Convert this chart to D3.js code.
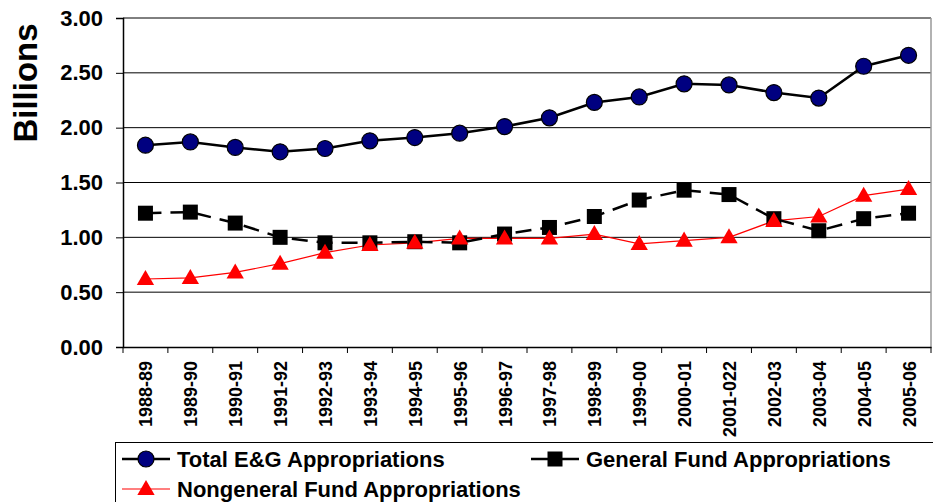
<!DOCTYPE html>
<html>
<head>
<meta charset="utf-8">
<script src="https://cdn.jsdelivr.net/npm/d3@7"></script>
<style>
  body { margin: 0; background: #fff; }
  svg { display: block; font-family: "Liberation Sans", Arial, sans-serif; font-weight: bold; }
</style>
</head>
<body>
<svg id="chart" width="933" height="502"></svg>
<script>
var years = ["1988-89","1989-90","1990-91","1991-92","1992-93","1993-94","1994-95","1995-96","1996-97",
             "1997-98","1998-99","1999-00","2000-01","2001-022","2002-03","2003-04","2004-05","2005-06"];
var totalEG = [1.84,1.87,1.82,1.78,1.81,1.88,1.91,1.95,2.01,2.09,2.23,2.28,2.40,2.39,2.32,2.27,2.56,2.66];
var generalFund = [1.22,1.23,1.13,1.00,0.95,0.95,0.96,0.95,1.03,1.09,1.19,1.34,1.43,1.39,1.17,1.06,1.17,1.22];
var nongeneralFund = [0.62,0.63,0.68,0.76,0.86,0.93,0.95,0.99,0.99,0.99,1.03,0.94,0.97,1.00,1.15,1.19,1.38,1.44];
var yTicks = [0, 0.5, 1, 1.5, 2, 2.5, 3];

var svg = d3.select("#chart");
var pLeft = 123, pRight = 931, pTop = 18, pBottom = 347;

var x = d3.scaleBand().domain(years).range([pLeft, pRight]);
var y = d3.scaleLinear().domain([0, 3]).range([pBottom, pTop]);

// gridlines
svg.append("g").selectAll("line").data(yTicks.filter(function(d) { return d > 0; })).enter()
  .append("line")
  .attr("x1", pLeft).attr("x2", pRight)
  .attr("y1", function(d) { return y(d); }).attr("y2", function(d) { return y(d); })
  .attr("stroke", "#000").attr("stroke-width", 1);

svg.append("line").attr("x1", pRight).attr("x2", pRight).attr("y1", pTop).attr("y2", pBottom)
  .attr("stroke", "#999").attr("stroke-width", 1.5);

// y axis
var yAxis = svg.append("g").attr("transform", "translate(" + pLeft + ",0)")
  .call(d3.axisLeft(y).tickValues(yTicks).tickFormat(d3.format(".2f")).tickSize(7).tickPadding(13));
yAxis.select(".domain").attr("stroke", "#000").attr("stroke-width", 1.5);
yAxis.selectAll("text").style("font-size", "22px").style("font-family", "Liberation Sans, Arial").style("font-weight", "bold").attr("fill", "#000");

// x axis
var xAxis = svg.append("g").attr("transform", "translate(0," + pBottom + ")")
  .call(d3.axisBottom(x).tickSize(0).tickFormat(""));
xAxis.select(".domain").attr("stroke", "#000").attr("stroke-width", 1.5);
svg.append("g").selectAll("line").data(years.concat(["end"])).enter().append("line")
  .attr("x1", function(d, i) { return pLeft + i * x.step(); })
  .attr("x2", function(d, i) { return pLeft + i * x.step(); })
  .attr("y1", pBottom).attr("y2", pBottom + 6).attr("stroke", "#000");

svg.append("g").selectAll("text").data(years).enter().append("text")
  .attr("transform", function(d) { return "translate(" + (x(d) + x.bandwidth() / 2 + 7) + "," + (pBottom + 14) + ") rotate(-90)"; })
  .attr("text-anchor", "end")
  .style("font-size", "18px")
  .text(function(d) { return d; });

svg.append("text")
  .attr("transform", "translate(37,83) rotate(-90)")
  .attr("text-anchor", "middle")
  .style("font-size", "33px")
  .text("Billions");

function cx(d, i) { return x(years[i]) + x.bandwidth() / 2; }

var line = d3.line().x(function(d, i) { return cx(d, i); }).y(function(d) { return y(d); });

// nongeneral
svg.append("path").attr("d", line(nongeneralFund)).attr("fill", "none").attr("stroke", "#ff0000").attr("stroke-width", 1.2);
// general fund
svg.append("path").attr("d", line(generalFund)).attr("fill", "none").attr("stroke", "#000").attr("stroke-width", 2.5).attr("stroke-dasharray", "16,9");
// total
svg.append("path").attr("d", line(totalEG)).attr("fill", "none").attr("stroke", "#000").attr("stroke-width", 2.5);

var tri = d3.symbol().type(d3.symbolTriangle).size(130);

svg.append("g").selectAll("rect").data(generalFund).enter().append("rect")
  .attr("x", function(d, i) { return cx(d, i) - 7.5; })
  .attr("y", function(d) { return y(d) - 7.5; })
  .attr("width", 15).attr("height", 15).attr("fill", "#000");

svg.append("g").selectAll("path").data(nongeneralFund).enter().append("path")
  .attr("d", tri)
  .attr("transform", function(d, i) { return "translate(" + cx(d, i) + "," + (y(d) + 1) + ")"; })
  .attr("fill", "#ff0000");

svg.append("g").selectAll("circle").data(totalEG).enter().append("circle")
  .attr("cx", function(d, i) { return cx(d, i); })
  .attr("cy", function(d) { return y(d); })
  .attr("r", 8).attr("fill", "#000080").attr("stroke", "#000").attr("stroke-width", 1.2);

// legend
var lg = svg.append("g");
lg.append("rect").attr("x", 115.5).attr("y", 442.5).attr("width", 830).attr("height", 70)
  .attr("fill", "#fff").attr("stroke", "#000");

var items = [
  { name: "Total E&G Appropriations", lx: 122, ly: 459, kind: "circle" },
  { name: "General Fund Appropriations", lx: 531, ly: 459, kind: "square" },
  { name: "Nongeneral Fund Appropriations", lx: 122, ly: 489, kind: "tri" }
];
items.forEach(function(it) {
  var col = it.kind === "tri" ? "#ff0000" : "#000";
  lg.append("line").attr("x1", it.lx).attr("x2", it.lx + 48).attr("y1", it.ly).attr("y2", it.ly)
    .attr("stroke", col).attr("stroke-width", it.kind === "tri" ? 1.2 : 2.5);
  var mx = it.lx + 24;
  if (it.kind === "circle") {
    lg.append("circle").attr("cx", mx).attr("cy", it.ly).attr("r", 8).attr("fill", "#000080").attr("stroke", "#000").attr("stroke-width", 1.2);
  } else if (it.kind === "square") {
    lg.append("rect").attr("x", mx - 7.5).attr("y", it.ly - 7.5).attr("width", 15).attr("height", 15).attr("fill", "#000");
  } else {
    lg.append("path").attr("d", tri).attr("transform", "translate(" + mx + "," + (it.ly + 1) + ")").attr("fill", "#ff0000");
  }
  lg.append("text").attr("x", it.lx + 55).attr("y", it.ly + 8).style("font-size", "22px").text(it.name);
});
</script>
</body>
</html>
